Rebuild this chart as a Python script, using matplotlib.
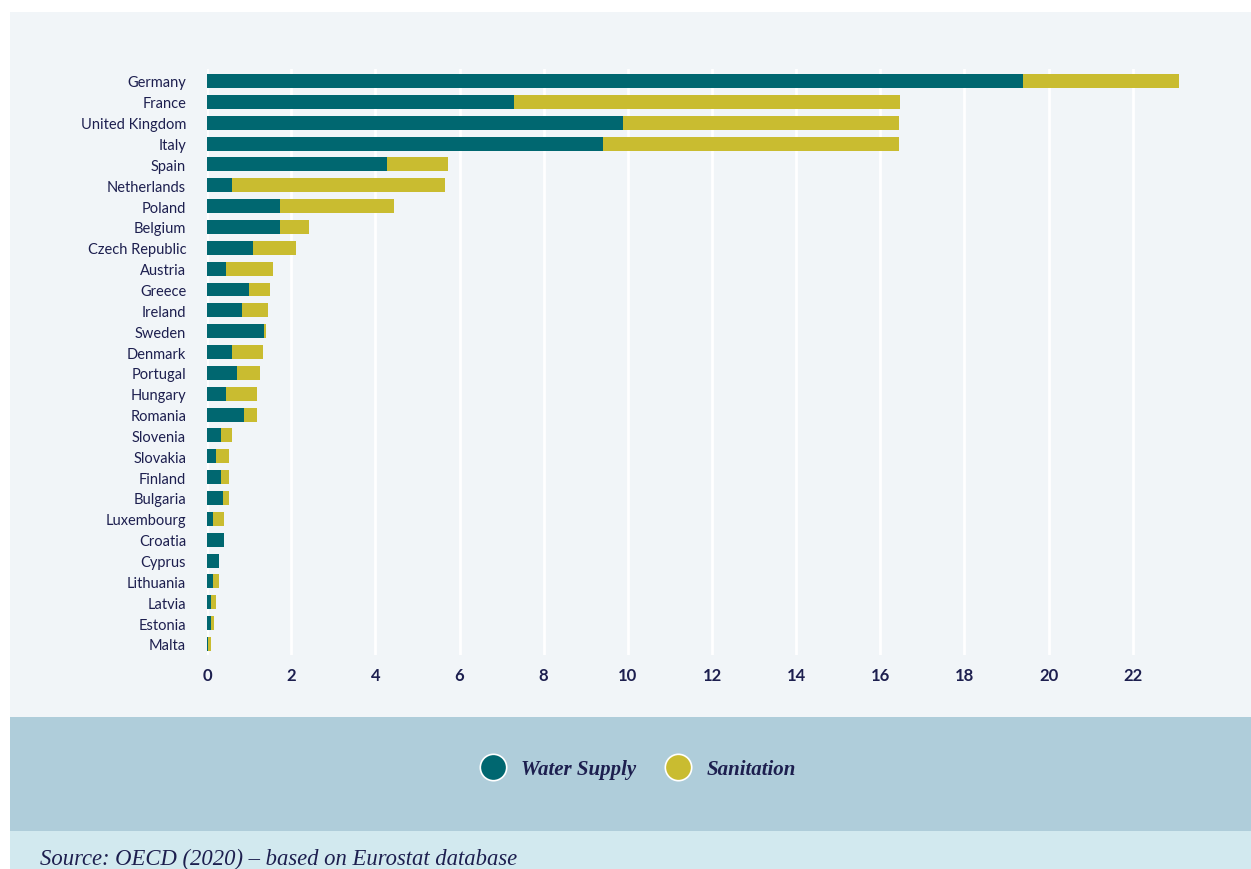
import matplotlib
matplotlib.use("Agg")
import matplotlib.pyplot as plt
from matplotlib.patches import Rectangle
from matplotlib.lines import Line2D

countries = ["Germany", "France", "United Kingdom", "Italy", "Spain", "Netherlands",
             "Poland", "Belgium", "Czech Republic", "Austria", "Greece", "Ireland",
             "Sweden", "Denmark", "Portugal", "Hungary", "Romania", "Slovenia",
             "Slovakia", "Finland", "Bulgaria", "Luxembourg", "Croatia", "Cyprus",
             "Lithuania", "Latvia", "Estonia", "Malta"]
water_supply = [19.4, 7.29, 9.88, 9.41, 4.28, 0.59, 1.73, 1.73, 1.09, 0.45, 1.0, 0.83,
                1.35, 0.59, 0.71, 0.45, 0.88, 0.33, 0.21, 0.33, 0.38, 0.14, 0.40, 0.29,
                0.14, 0.10, 0.10, 0.02]
totals = [23.1, 16.46, 16.44, 16.44, 5.72, 5.65, 4.44, 2.42, 2.11, 1.57, 1.5, 1.45,
          1.40, 1.33, 1.26, 1.19, 1.19, 0.59, 0.52, 0.52, 0.52, 0.40, 0.40, 0.29,
          0.29, 0.21, 0.17, 0.10]
sanitation = [round(t - w, 3) for t, w in zip(totals, water_supply)]
x_ticks = [0, 2, 4, 6, 8, 10, 12, 14, 16, 18, 20, 22]

TEAL = "#006770"
GOLD = "#c9bc30"
NAVY = "#1d1f4f"

fig = plt.figure(figsize=(12.51, 8.70), dpi=100)
fig.patch.set_facecolor("white")
H = 870.0
fig.patches.append(Rectangle((10 / 1251, (870 - 718) / H), 1, (718 - 13) / H,
                             transform=fig.transFigure, facecolor="#f1f5f8",
                             edgecolor="none", zorder=-10))
fig.patches.append(Rectangle((10 / 1251, (870 - 832) / H), 1, (832 - 718) / H,
                             transform=fig.transFigure, facecolor="#afcdda",
                             edgecolor="none", zorder=-10))
fig.patches.append(Rectangle((10 / 1251, 0), 1, (870 - 832) / H,
                             transform=fig.transFigure, facecolor="#d2e9ef",
                             edgecolor="none", zorder=-10))

ax = fig.add_axes([207 / 1251, (870 - 656) / H, 1010 / 1251, (656 - 70) / H])
ax.set_facecolor("none")
y = list(range(len(countries)))
ax.barh(y, water_supply, height=0.67, color=TEAL, zorder=3)
ax.barh(y, sanitation, left=water_supply, height=0.67, color=GOLD, zorder=3)
ax.set_ylim(len(countries) - 1 + 0.53, -0.575)
ax.set_xlim(0, 24)
ax.set_yticks(y)
ax.set_yticklabels(countries, fontsize=10.5, color=NAVY, family="Lato")
ax.set_xticks(x_ticks)
ax.set_xticklabels([str(t) for t in x_ticks], fontsize=12, fontweight="bold",
                   color=NAVY, family="Lato")
ax.tick_params(axis="both", length=0)
ax.tick_params(axis="y", pad=15)
ax.tick_params(axis="x", pad=9)
ax.xaxis.grid(True, color="white", linewidth=2, zorder=0)
ax.set_axisbelow(True)
for s in ax.spines.values():
    s.set_visible(False)

handles = [Line2D([], [], marker="o", linestyle="none", markersize=19,
                  markerfacecolor=TEAL, markeredgecolor="white", markeredgewidth=1.2),
           Line2D([], [], marker="o", linestyle="none", markersize=19,
                  markerfacecolor=GOLD, markeredgecolor="white", markeredgewidth=1.2)]
fig.legend(handles, ["Water Supply", "Sanitation"], loc="center",
           bbox_to_anchor=(634 / 1251, (870 - 770) / H), ncol=2, frameon=False,
           prop={"family": "Liberation Serif", "style": "italic", "weight": "bold",
                 "size": 15},
           labelcolor=NAVY, handletextpad=0.35, columnspacing=1.0)

fig.text(40 / 1251, (870 - 859) / H, "Source: OECD (2020) \u2013 based on Eurostat database",
         family="Liberation Serif", style="italic", fontsize=16.3, color=NAVY,
         va="center", ha="left")

fig.savefig("out.png", dpi=100, facecolor=fig.get_facecolor())
